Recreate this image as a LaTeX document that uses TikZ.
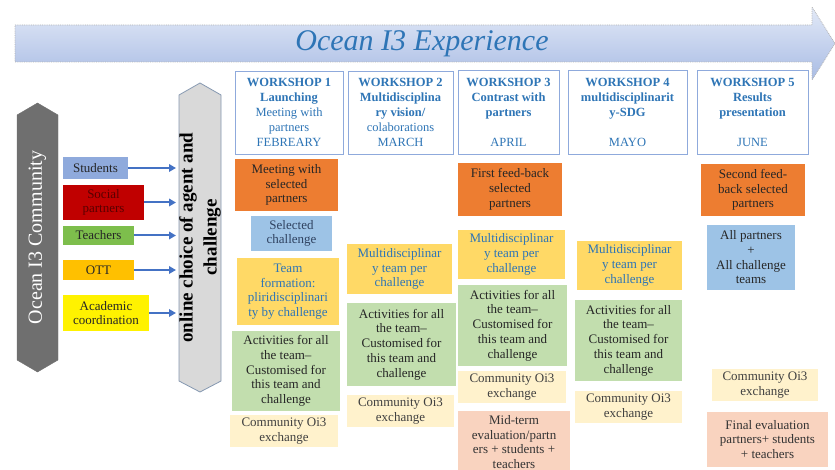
\documentclass[tikz,border=0pt]{standalone}
\usepackage{fontspec}
\setmainfont{Liberation Serif}
\usetikzlibrary{arrows.meta}

\definecolor{wsblue}{HTML}{2E75B6}
\definecolor{wsedge}{HTML}{8FAADC}
\definecolor{boxorange}{HTML}{ED7D31}
\definecolor{boxblue}{HTML}{9DC3E6}
\definecolor{boxyellow}{HTML}{FFD966}
\definecolor{boxgreen}{HTML}{C2DEAE}
\definecolor{boxcream}{HTML}{FFF2CC}
\definecolor{boxpink}{HTML}{F9D3BF}
\definecolor{slate}{HTML}{2F4260}
\definecolor{softgray}{HTML}{404040}
\definecolor{commgray}{HTML}{6F6F6F}
\definecolor{agentgray}{HTML}{D9D9D9}
\definecolor{agentedge}{HTML}{8497B0}
\definecolor{linkblue}{HTML}{4472C4}
\definecolor{bandtop}{HTML}{E2E9F7}
\definecolor{bandbottom}{HTML}{A9BCE4}
\definecolor{socialred}{HTML}{C00000}
\definecolor{teachgreen}{HTML}{7DBE4C}
\definecolor{ottamber}{HTML}{FFC000}

\tikzset{
  card/.style={inner sep=0pt, align=center, text=black!85, font=\fontsize{13}{14.7}\selectfont},
  wsbox/.style={card, draw=wsedge, line width=0.8pt, fill=white, text=wsblue, font=\fontsize{12.5}{15}\selectfont},
  orangebox/.style={card, fill=boxorange},
  bluebox/.style={card, fill=boxblue},
  yellowbox/.style={card, fill=boxyellow, text=wsblue},
  greenbox/.style={card, fill=boxgreen},
  creambox/.style={card, fill=boxcream, text=softgray},
  pinkbox/.style={card, fill=boxpink, text=black!80},
  agentbox/.style={card, text=black!85, font=\fontsize{13}{14.5}\selectfont},
  link/.style={draw=linkblue, line width=2pt, -{Triangle[length=7pt,width=7.5pt]}}
}

\begin{document}
\begin{tikzpicture}[x=1pt,y=-1pt]
  \useasboundingbox (0,0) rectangle (835,470);
  \clip (0,0) rectangle (835,470);

  % timeline band
  \shadedraw[top color=bandtop, bottom color=bandbottom, draw=gray!60, densely dotted, line width=0.8pt]
    (15,25) -- (812,25) -- (812,7) -- (835,43.5) -- (812,80) -- (812,62) -- (15,62) -- cycle;
  \node[text=wsblue, font=\itshape\fontsize{30}{32}\selectfont] (title) at (422,44) {Ocean I3 Experience};

  % community and online choice
  \filldraw[fill=commgray, draw=commgray] (37.5,103) -- (58,115) -- (58,360) -- (37.5,372) -- (17,360) -- (17,115) -- cycle;
  \node[rotate=90, text=white, font=\fontsize{20}{22}\selectfont] (com) at (37.5,237.5) {Ocean I3 Community};

  \filldraw[fill=agentgray, draw=agentedge, line width=0.8pt] (200,83) -- (221,95) -- (221,381) -- (200,392) -- (179,381) -- (179,95) -- cycle;
  \node[rotate=90, align=center, font=\bfseries\fontsize{19}{24}\selectfont] (agent) at (200,237.5) {online choice of agent and\\challenge};
  \coordinate (agentin) at (176,237.5);

  \node[agentbox, fill=wsedge, minimum width=65, minimum height=22] (st) at (95.5,168) {Students};
  \node[agentbox, fill=socialred, text=black!65!red, minimum width=81, minimum height=35] (sp) at (103.5,202.5) {Social\\partners};
  \node[agentbox, fill=teachgreen, minimum width=71, minimum height=19] (te) at (98.5,235.5) {Teachers};
  \node[agentbox, fill=ottamber, minimum width=71, minimum height=20] (ott) at (98.5,270) {OTT};
  \node[agentbox, fill=yellow, minimum width=86, minimum height=36] (acad) at (106,313) {Academic\\coordination};

  \draw[link] (st.east) -- (st.east -| agentin);
  \draw[link] (sp.east) -- (sp.east -| agentin);
  \draw[link] (te.east) -- (te.east -| agentin);
  \draw[link] (ott.east) -- (ott.east -| agentin);
  \draw[link] (acad.east) -- (acad.east -| agentin);

  % workshops
  \node[wsbox, minimum width=108, minimum height=83] (ws1) at (289,112.5) {\textbf{WORKSHOP 1}\\\textbf{Launching}\\Meeting with\\partners\\FEBREARY};
  \node[wsbox, minimum width=105, minimum height=83] (ws2) at (400.5,112.5) {\textbf{WORKSHOP 2}\\\textbf{Multidisciplina}\\\textbf{ry vision/}\\colaborations\\MARCH};
  \node[wsbox, minimum width=101, minimum height=84] (ws3) at (508.5,112) {\textbf{WORKSHOP 3}\\\textbf{Contrast with}\\\textbf{partners}\\~\\APRIL};
  \node[wsbox, minimum width=119, minimum height=84] (ws4) at (627.5,112) {\textbf{WORKSHOP 4}\\\textbf{multidisciplinarit}\\\textbf{y-SDG}\\~\\MAYO};
  \node[wsbox, minimum width=111, minimum height=84] (ws5) at (752.5,112) {\textbf{WORKSHOP 5}\\\textbf{Results}\\\textbf{presentation}\\~\\JUNE};

  % workshop 1
  \node[orangebox, minimum width=103, minimum height=52] (meet) at (286.5,185) {Meeting with\\selected\\partners};
  \node[bluebox, text=slate, minimum width=81, minimum height=35] (selch) at (291.5,233.5) {Selected\\challenge};
  \node[yellowbox, minimum width=102, minimum height=67] (team1) at (288,291.5) {Team\\formation:\\pliridisciplinari\\ty by challenge};
  \node[greenbox, minimum width=108, minimum height=80] (act1) at (286,371) {Activities for all\\the team–\\Customised for\\this team and\\challenge};
  \node[creambox, minimum width=108, minimum height=32] (comm1) at (284,431) {Community Oi3\\exchange};

  % workshop 2
  \node[yellowbox, minimum width=105, minimum height=50] (team2) at (399.5,269) {Multidisciplinar\\y team per\\challenge};
  \node[greenbox, minimum width=109, minimum height=83] (act2) at (401.5,344.5) {Activities for all\\the team–\\Customised for\\this team and\\challenge};
  \node[creambox, minimum width=107, minimum height=32] (comm2) at (400.5,411) {Community Oi3\\exchange};

  % workshop 3
  \node[orangebox, minimum width=104, minimum height=53] (feed1) at (510,189.5) {First feed-back\\selected\\partners};
  \node[yellowbox, minimum width=107, minimum height=49] (team3) at (511.5,254.5) {Multidisciplinar\\y team per\\challenge};
  \node[greenbox, minimum width=109, minimum height=81] (act3) at (512.5,325.5) {Activities for all\\the team–\\Customised for\\this team and\\challenge};
  \node[creambox, minimum width=108, minimum height=32] (comm3) at (512,387) {Community Oi3\\exchange};
  \node[pinkbox, minimum width=112, minimum height=62] (eval1) at (514,442) {Mid-term\\evaluation/partn\\ers + students +\\teachers};

  % workshop 4
  \node[yellowbox, minimum width=105, minimum height=49] (team4) at (629.5,265.5) {Multidisciplinar\\y team per\\challenge};
  \node[greenbox, minimum width=107, minimum height=81] (act4) at (628.5,340.5) {Activities for all\\the team–\\Customised for\\this team and\\challenge};
  \node[creambox, minimum width=107, minimum height=32] (comm4) at (628.5,407) {Community Oi3\\exchange};

  % workshop 5
  \node[orangebox, minimum width=104, minimum height=52] (feed2) at (753,190) {Second feed-\\back selected\\partners};
  \node[bluebox, minimum width=88, minimum height=65] (allp) at (751,257.5) {All partners\\+\\All challenge\\teams};
  \node[creambox, minimum width=106, minimum height=32] (comm5) at (765,385) {Community Oi3\\exchange};
  \node[pinkbox, minimum width=121, minimum height=55] (eval2) at (767.5,439.5) {Final evaluation\\partners+ students\\+ teachers};
\end{tikzpicture}
\end{document}
